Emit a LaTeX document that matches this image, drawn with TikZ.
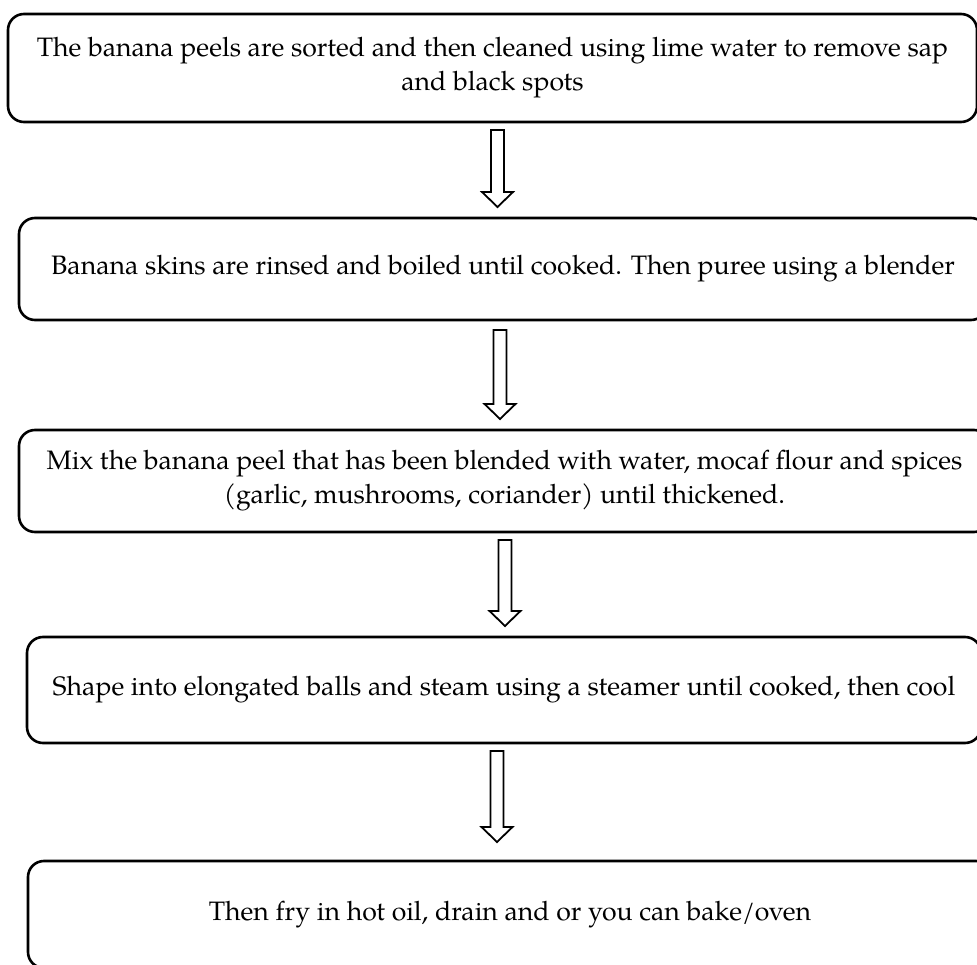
\documentclass[tikz,border=0pt]{standalone}
\usepackage{fontspec}
\setmainfont{TeX Gyre Pagella}
\usetikzlibrary{calc}
\newcommand{\hollowarrow}[2]{%
  \draw[arrowline] let \p1=(#1), \p2=(#2) in
    (\x1-6.5pt,\y1) -- (\x1+6.5pt,\y1) -- (\x1+6.5pt,\y2+15pt) -- (\x1+15.5pt,\y2+15pt)
    -- (\x1,\y2) -- (\x1-15.5pt,\y2+15pt) -- (\x1-6.5pt,\y2+15pt) -- cycle;}
\begin{document}
\begin{tikzpicture}[x=1pt,y=-1pt,
  stepbox/.style={draw, line width=2.6pt, rounded corners=16pt, inner sep=0pt, align=center,
    font=\fontsize{26.65}{34}\selectfont},
  arrowline/.style={draw, line width=1.8pt, miter limit=10, fill=white}]
\useasboundingbox (0,0) rectangle (977,965);
\clip (0,0) rectangle (977,965);
\node[stepbox, minimum width=969pt, minimum height=108pt] (b1) at (492.5,68)
  {The banana peels are sorted and then cleaned using lime water to remove sap\\and black spots};
\node[stepbox, minimum width=968pt, minimum height=102pt] (b2) at (503,269)
  {\raisebox{4pt}{Banana skins are rinsed and boiled until cooked. Then puree using a blender}};
\node[stepbox, minimum width=971pt, minimum height=102pt] (b3) at (504.5,481)
  {Mix the banana peel that has been blended with water, mocaf flour and spices\\(garlic, mushrooms, coriander) until thickened.};
\node[stepbox, minimum width=954pt, minimum height=106pt] (b4) at (504,690)
  {Shape into elongated balls and steam using a steamer until cooked, then cool};
\node[stepbox, minimum width=964pt, minimum height=107pt] (b5) at (510,914.5)
  {Then fry in hot oil, drain and or you can bake/oven};
\coordinate (a1s) at (497.5,130); \coordinate (a1e) at (497.5,207);
\coordinate (a2s) at (500,330); \coordinate (a2e) at (500,419);
\coordinate (a3s) at (505,540); \coordinate (a3e) at (505,626);
\coordinate (a4s) at (497,751); \coordinate (a4e) at (497,842);
\hollowarrow{a1s}{a1e}
\hollowarrow{a2s}{a2e}
\hollowarrow{a3s}{a3e}
\hollowarrow{a4s}{a4e}
\end{tikzpicture}
\end{document}
